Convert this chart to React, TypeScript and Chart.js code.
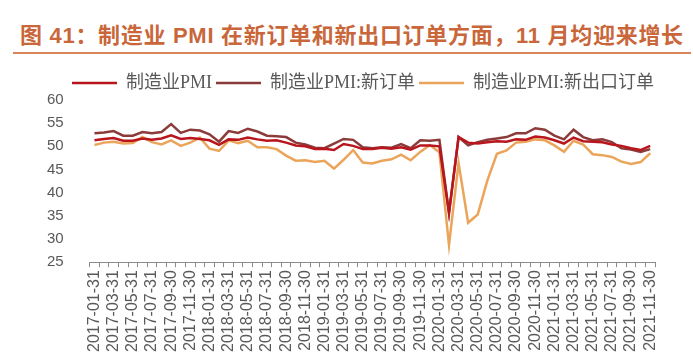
import React, { useEffect, useRef } from "react";
import { Chart, registerables } from "chart.js";

Chart.register(...registerables);

const months: string[] = [
  "2017-01-31","2017-02-28","2017-03-31","2017-04-30","2017-05-31","2017-06-30","2017-07-31","2017-08-31","2017-09-30","2017-10-31","2017-11-30","2017-12-31",
  "2018-01-31","2018-02-28","2018-03-31","2018-04-30","2018-05-31","2018-06-30","2018-07-31","2018-08-31","2018-09-30","2018-10-31","2018-11-30","2018-12-31",
  "2019-01-31","2019-02-28","2019-03-31","2019-04-30","2019-05-31","2019-06-30","2019-07-31","2019-08-31","2019-09-30","2019-10-31","2019-11-30","2019-12-31",
  "2020-01-31","2020-02-29","2020-03-31","2020-04-30","2020-05-31","2020-06-30","2020-07-31","2020-08-31","2020-09-30","2020-10-31","2020-11-30","2020-12-31",
  "2021-01-31","2021-02-28","2021-03-31","2021-04-30","2021-05-31","2021-06-30","2021-07-31","2021-08-31","2021-09-30","2021-10-31","2021-11-30",
];

const pmi: number[] = [
  51.3,51.6,51.8,51.2,51.2,51.7,51.4,51.7,52.4,51.6,51.8,51.6,
  51.3,50.3,51.5,51.4,51.9,51.5,51.2,51.3,50.8,50.2,50.0,49.4,
  49.5,49.2,50.5,50.1,49.4,49.4,49.7,49.5,49.8,49.3,50.2,50.2,
  50.0,35.7,52.0,50.8,50.6,50.9,51.1,51.0,51.5,51.4,52.1,51.9,
  51.3,50.6,51.9,51.1,51.0,50.9,50.4,50.1,49.6,49.2,50.1,
];

const newOrders: number[] = [
  52.8,53.0,53.3,52.3,52.3,53.1,52.8,53.1,54.8,52.9,53.6,53.4,
  52.6,51.0,53.3,52.9,53.8,53.2,52.3,52.2,52.0,50.8,50.4,49.7,
  49.6,50.6,51.6,51.4,49.8,49.6,49.8,49.7,50.5,49.6,51.3,51.2,
  51.4,35.6,52.0,50.2,50.9,51.4,51.7,52.0,52.8,52.8,53.9,53.6,
  52.3,51.5,53.6,52.0,51.3,51.5,50.9,49.6,49.3,48.8,49.4,
];

const exportOrders: number[] = [
  50.3,50.8,51.0,50.6,50.7,52.0,50.9,50.4,51.3,50.1,50.8,51.9,
  49.5,49.0,51.3,50.7,51.2,49.8,49.8,49.4,48.0,46.9,47.0,46.6,
  46.9,45.2,47.1,49.2,46.5,46.3,46.9,47.2,48.2,47.0,48.8,50.3,
  48.7,28.7,46.4,33.5,35.3,42.6,48.4,49.1,50.8,51.0,51.5,51.3,
  50.2,48.8,51.2,50.4,48.3,48.1,47.7,46.7,46.2,46.6,48.5,
];

const seriesNames: string[] = ["制造业PMI", "制造业PMI:新订单", "制造业PMI:新出口订单"];
const yTicks: number[] = [25, 30, 35, 40, 45, 50, 55, 60];

const TITLE = "图 41：制造业 PMI 在新订单和新出口订单方面，11 月均迎来增长";

const legendShift = {
  id: "legendShift",
  afterLayout(chart: any) {
    if (chart.legend) {
      chart.legend.left += 39;
      chart.legend.right += 39;
      chart.legend.top += 2;
      chart.legend.bottom += 2;
    }
  },
};

export default function App() {
  const ref = useRef<HTMLCanvasElement | null>(null);

  useEffect(() => {
    if (!ref.current) return;
    const colors = ["#B8151D", "#8C3B3B", "#EBA55B"];
    const data = [pmi, newOrders, exportOrders];
    const chart = new Chart(ref.current, {
      type: "line",
      data: {
        labels: months,
        datasets: seriesNames.map((name, i) => ({
          label: name,
          data: data[i],
          borderColor: colors[i],
          backgroundColor: colors[i],
          borderWidth: 2.5,
          pointRadius: 0,
          tension: 0,
          fill: false,
        })),
      },
      plugins: [legendShift],
      options: {
        animation: false,
        responsive: false,
        maintainAspectRatio: false,
        layout: { padding: { left: 29, right: 38, top: 68, bottom: 7 } },
        plugins: {
          legend: {
            display: true,
            position: "top",
            align: "start",
            labels: {
              boxWidth: 45,
              boxHeight: 0,
              padding: 4,
              color: "#595959",
              font: { family: '"Liberation Serif", "Noto Sans CJK SC", serif', size: 18 },
              generateLabels: (c: any) =>
                c.data.datasets.map((d: any, i: number) => ({
                  text: d.label,
                  fillStyle: d.borderColor,
                  strokeStyle: d.borderColor,
                  lineWidth: 2.5,
                  hidden: false,
                  datasetIndex: i,
                  fontColor: "#595959",
                })),
            },
          },
          title: { display: false },
          tooltip: { enabled: false },
        },
        scales: {
          x: {
            type: "category",
            offset: true,
            grid: {
              display: true,
              drawOnChartArea: false,
              drawTicks: true,
              tickLength: 5,
              offset: true,
              color: "#8c8c8c",
            },
            border: { display: true, color: "#8c8c8c", width: 1 },
            ticks: {
              autoSkip: false,
              maxRotation: 90,
              minRotation: 90,
              padding: 3,
              color: "#595959",
              font: { family: '"Liberation Sans", Arial, sans-serif', size: 16 },
              callback: (_v: any, i: number) => (i % 2 === 0 ? months[i] : ""),
            },
          },
          y: {
            min: 25,
            max: 60,
            afterBuildTicks: (axis: any) => {
              axis.ticks = yTicks.map((v) => ({ value: v }));
            },
            grid: { display: false },
            border: { display: false },
            ticks: {
              padding: 18,
              color: "#595959",
              font: { family: '"Liberation Sans", Arial, sans-serif', size: 15 },
            },
          },
        },
      },
    });
    return () => chart.destroy();
  }, []);

  return (
    <div style={{ position: "fixed", left: 0, top: 0, width: 693, height: 362, background: "#fff", overflow: "hidden" }}>
      <div
        style={{
          position: "absolute",
          left: 20,
          top: 22,
          whiteSpace: "nowrap",
          fontFamily: '"Liberation Sans", "Noto Sans CJK SC", sans-serif',
          fontWeight: 700,
          fontSize: 22,
          letterSpacing: "0.7px",
          lineHeight: "28px",
          color: "#C9663A",
        }}
      >
        {TITLE}
      </div>
      <div style={{ position: "absolute", left: 13, top: 52, width: 678, height: 2, background: "#D9865A" }} />
      <canvas ref={ref} width={693} height={362} style={{ position: "absolute", left: 0, top: 0, width: 693, height: 362 }} />
    </div>
  );
}
